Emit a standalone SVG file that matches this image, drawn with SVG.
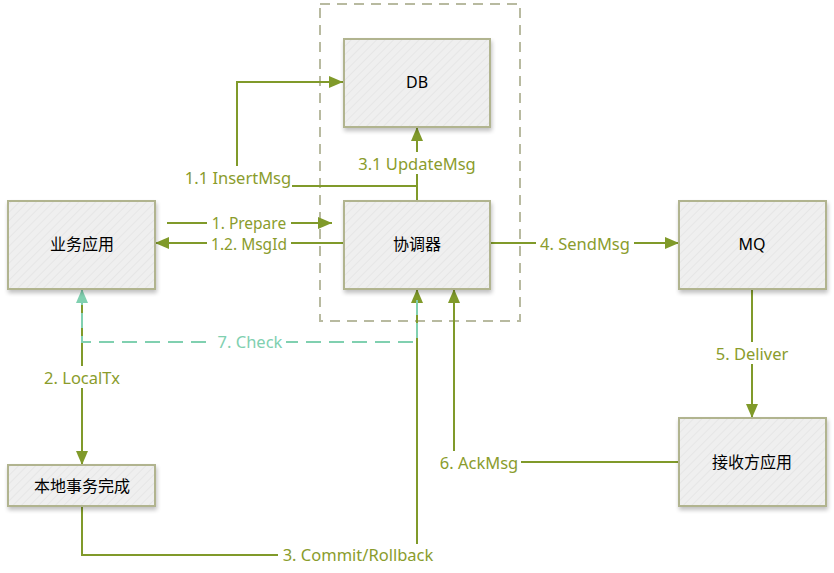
<svg xmlns="http://www.w3.org/2000/svg" width="834" height="573" viewBox="0 0 834 573">
<defs>
<pattern id="hatch" width="6" height="6" patternUnits="userSpaceOnUse" patternTransform="rotate(45)">
<rect width="6" height="6" fill="#efefef"/>
<line x1="0" y1="0" x2="0" y2="6" stroke="#e6e6e6" stroke-width="2"/>
</pattern>
<filter id="sh" x="-10%" y="-10%" width="130%" height="140%">
<feGaussianBlur in="SourceAlpha" stdDeviation="2"/>
<feOffset dx="1" dy="3" result="b"/>
<feComponentTransfer><feFuncA type="linear" slope="0.25"/></feComponentTransfer>
<feMerge><feMergeNode/><feMergeNode in="SourceGraphic"/></feMerge>
</filter>
<marker id="ag" viewBox="0 0 14 12" refX="14" refY="6" markerWidth="14" markerHeight="12" markerUnits="userSpaceOnUse" orient="auto">
<path d="M0,0 L14,6 L0,12 Z" fill="#809a2a"/>
</marker>
<marker id="at" viewBox="0 0 14 12" refX="14" refY="6" markerWidth="14" markerHeight="12" markerUnits="userSpaceOnUse" orient="auto">
<path d="M0,0 L14,6 L0,12 Z" fill="#80d0b0"/>
</marker>
</defs>
<style>
.box{fill:url(#hatch);stroke:#b1b48f;stroke-width:2;filter:url(#sh)}
.nt{font-family:"Noto Sans","Noto Sans CJK SC",sans-serif;font-size:16px;fill:#000;text-anchor:middle;dominant-baseline:central}
.c{fill:none;stroke:#809a2a;stroke-width:2}
.ck{fill:none;stroke:#80d0b0;stroke-width:2;stroke-dasharray:15 8}
.lb{font-family:"Noto Sans","Noto Sans CJK SC",sans-serif;font-size:16.5px;fill:#8a9c2c;text-anchor:middle;dominant-baseline:central}
.sm{font-size:15.5px}
.lt{fill:#80d0b0}
.bg{fill:#fff}
</style>
<rect x="320" y="4" width="200" height="317" fill="none" stroke="#b8baa0" stroke-width="2" stroke-dasharray="10 7"/>
<g id="connectors">
<path class="c" d="M417,201 V186 H237 V82 H343" marker-end="url(#ag)"/>
<path class="c" d="M417,201 V127" marker-end="url(#ag)"/>
<path class="c" d="M167,223 H332" marker-end="url(#ag)"/>
<path class="c" d="M344,243 H155" marker-end="url(#ag)"/>
<path class="c" d="M490,243 H679" marker-end="url(#ag)"/>
<path class="c" d="M752,289 V418" marker-end="url(#ag)"/>
<path class="c" d="M679,462 H454 V289" marker-end="url(#ag)"/>
<path class="c" d="M82,300 V465" marker-end="url(#ag)"/>
<path class="c" d="M82,506 V555 H417 V289" marker-end="url(#ag)"/>
<path class="ck" d="M417,300 V342 H82 V289" marker-end="url(#at)"/>
<rect class="bg" x="184" y="166" width="108" height="22"/>
<text class="lb" x="238" y="177">1.1 InsertMsg</text>
<rect class="bg" x="355" y="152" width="124" height="22"/>
<text class="lb" x="417" y="163">3.1 UpdateMsg</text>
<rect class="bg" x="207" y="214" width="84" height="18"/>
<text class="lb sm" x="249" y="223">1. Prepare</text>
<rect class="bg" x="207" y="234" width="84" height="18"/>
<text class="lb sm" x="249" y="244">1.2. MsgId</text>
<rect class="bg" x="536" y="232" width="98" height="22"/>
<text class="lb" x="585" y="243">4. SendMsg</text>
<rect class="bg" x="711" y="342" width="82" height="22"/>
<text class="lb" x="752" y="353">5. Deliver</text>
<rect class="bg" x="437" y="451" width="84" height="22"/>
<text class="lb" x="479" y="462">6. AckMsg</text>
<rect class="bg" x="40" y="366" width="84" height="22"/>
<text class="lb" x="82" y="377">2. LocalTx</text>
<rect class="bg" x="214" y="330" width="72" height="22"/>
<text class="lb lt" x="250" y="341">7. Check</text>
<rect class="bg" x="278" y="544" width="160" height="22"/>
<text class="lb" x="358" y="554">3. Commit/Rollback</text>
</g>
<g id="db"><rect class="box" x="344" y="39" width="146" height="88"/><text class="nt" x="417" y="82">DB</text></g>
<g id="app"><rect class="box" x="8" y="201" width="147" height="88"/><text class="nt" x="82" y="244">业务应用</text></g>
<g id="coord"><rect class="box" x="344" y="201" width="146" height="88"/><text class="nt" x="417" y="244">协调器</text></g>
<g id="mq"><rect class="box" x="679" y="201" width="147" height="88"/><text class="nt" x="752" y="244">MQ</text></g>
<g id="local"><rect class="box" x="8" y="465" width="147" height="41"/><text class="nt" x="82" y="486">本地事务完成</text></g>
<g id="recv"><rect class="box" x="679" y="418" width="147" height="88"/><text class="nt" x="752" y="462">接收方应用</text></g>
</svg>
